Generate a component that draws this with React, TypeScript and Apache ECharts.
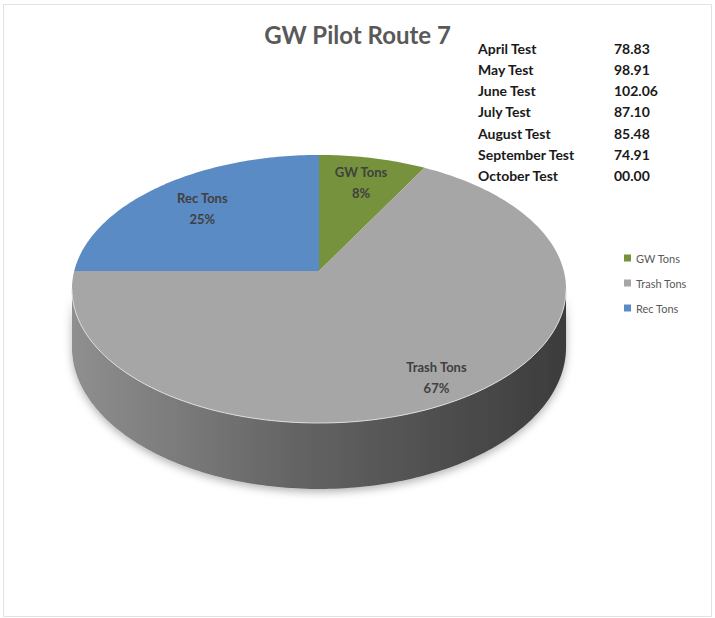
import React, { useEffect, useRef } from "react";
import * as echarts from "echarts";

// ---- data ----
const sliceNames = ["GW Tons", "Trash Tons", "Rec Tons"];
const sliceValues = [8, 67, 25];
const testLabels = [
  "April Test",
  "May Test",
  "June Test",
  "July Test",
  "August Test",
  "September Test",
  "October Test",
];
const testValues = ["78.83", "98.91", "102.06", "87.10", "85.48", "74.91", "00.00"];
const chartTitle = "GW Pilot Route 7";

// ---- styles ----
const sliceColors = ["#76923c", "#a6a6a6", "#5b8bc4"];
const labelRadius = [0.76, 0.85, 0.72];
const FONT = "Lato, 'Open Sans', sans-serif";

// perspective projection of the pie disc
const CX = 319;
const VY = 271;
const A = 244.8;
const B = 131.6;
const K = -0.1343;
const E = 57.1;

function proj(r: number, t: number, h: number): number[] {
  const u = r * Math.sin(t);
  const v = -r * Math.cos(t);
  const d = 1 + K * v;
  return [CX + (A * u) / d, VY + (B * v + E * h) / d];
}

function shade(hex: string, f: number): string {
  const n = parseInt(hex.slice(1), 16);
  const r = Math.round(((n >> 16) & 255) * f);
  const g = Math.round(((n >> 8) & 255) * f);
  const b = Math.round((n & 255) * f);
  return `rgb(${r},${g},${b})`;
}

export default function App() {
  const ref = useRef<HTMLDivElement>(null);

  useEffect(() => {
    document.body.style.margin = "0";
    if (!ref.current) return;
    const chart = echarts.init(ref.current, undefined, { renderer: "svg" });

    const total = sliceValues.reduce((s, v) => s + v, 0);
    const starts: number[] = [];
    let acc = 0;
    sliceValues.forEach((v) => {
      starts.push(acc);
      acc += v;
    });
    const tL = Math.acos(K); // visible side range
    const tR = 2 * Math.PI - Math.acos(K);
    const STEP = Math.PI / 180;

    const arc = (a: number, b: number, h: number) => {
      const pts: number[][] = [];
      for (let t = a; t < b; t += STEP) pts.push(proj(1, t, h));
      pts.push(proj(1, b, h));
      return pts;
    };

    const series = sliceNames.map((name, i) => ({
      type: "custom",
      name,
      coordinateSystem: "none",
      itemStyle: { color: sliceColors[i] },
      data: [sliceValues[i]],
      renderItem: () => {
        const s = (starts[i] / total) * 2 * Math.PI;
        const e = ((starts[i] + sliceValues[i]) / total) * 2 * Math.PI;
        const color = sliceColors[i];
        const children: any[] = [];
        const a = Math.max(s, tL);
        const b = Math.min(e, tR);
        if (a < b) {
          const top = arc(a, b, 0);
          const bottom = arc(a, b, 1).reverse();
          children.push({
            type: "polygon",
            z2: 0,
            shape: { points: top.concat(bottom) },
            style: {
              fill: new echarts.graphic.LinearGradient(0, 0, 1, 0, [
                { offset: 0, color: shade(color, 0.86) },
                { offset: 0.45, color: shade(color, 0.6) },
                { offset: 1, color: shade(color, 0.36) },
              ]),
              shadowBlur: 8,
              shadowOffsetY: 3,
              shadowColor: "rgba(0,0,0,0.3)",
            },
          });
          children.push({
            type: "polyline",
            z2: 2,
            shape: { points: top },
            style: { fill: "none", stroke: "rgba(225,225,225,0.9)", lineWidth: 1 },
          });
        }
        const topPts = [proj(0, 0, 0)].concat(arc(s, e, 0));
        children.push({
          type: "polygon",
          z2: 1,
          shape: { points: topPts },
          style: { fill: color },
        });
        const mid = (s + e) / 2;
        const lp = proj(labelRadius[i], mid, 0);
        const pct = Math.round((sliceValues[i] / total) * 100);
        children.push({
          type: "text",
          z2: 3,
          x: lp[0],
          y: lp[1],
          style: {
            text: `${name}\n${pct}%`,
            fill: "#404040",
            fontFamily: FONT,
            fontWeight: "bold",
            fontSize: 13,
            lineHeight: 21,
            align: "center",
            verticalAlign: "middle",
          },
        });
        return { type: "group", children };
      },
    }));

    const tableGraphics: any[] = [];
    testLabels.forEach((label, i) => {
      const y = 48 + i * 21.25;
      tableGraphics.push({
        type: "text",
        x: 478,
        y,
        style: {
          text: label,
          fill: "#1a1a1a",
          fontFamily: FONT,
          fontWeight: "bold",
          fontSize: 14,
          align: "left",
          verticalAlign: "middle",
        },
      });
      tableGraphics.push({
        type: "text",
        x: 614,
        y,
        style: {
          text: testValues[i],
          fill: "#1a1a1a",
          fontFamily: FONT,
          fontWeight: "bold",
          fontSize: 14,
          align: "left",
          verticalAlign: "middle",
        },
      });
    });

    chart.setOption({
      animation: false,
      backgroundColor: "#ffffff",
      title: {
        text: chartTitle,
        left: "center",
        top: 17,
        textStyle: {
          fontFamily: FONT,
          fontWeight: "bold",
          fontSize: 24,
          color: "#595959",
        },
      },
      legend: {
        data: sliceNames,
        orient: "vertical",
        left: 619,
        top: 247.5,
        icon: "rect",
        itemWidth: 7,
        itemHeight: 7,
        itemGap: 14,
        selectedMode: false,
        textStyle: { fontFamily: FONT, fontSize: 11, color: "#595959" },
      },
      graphic: [
        {
          type: "rect",
          shape: { x: 3.5, y: 4.5, width: 708, height: 612 },
          style: { fill: "none", stroke: "#e2e2e2", lineWidth: 1 },
          silent: true,
        },
        ...tableGraphics,
      ],
      series,
    });

    return () => chart.dispose();
  }, []);

  return <div ref={ref} style={{ width: 715, height: 618 }} />;
}
